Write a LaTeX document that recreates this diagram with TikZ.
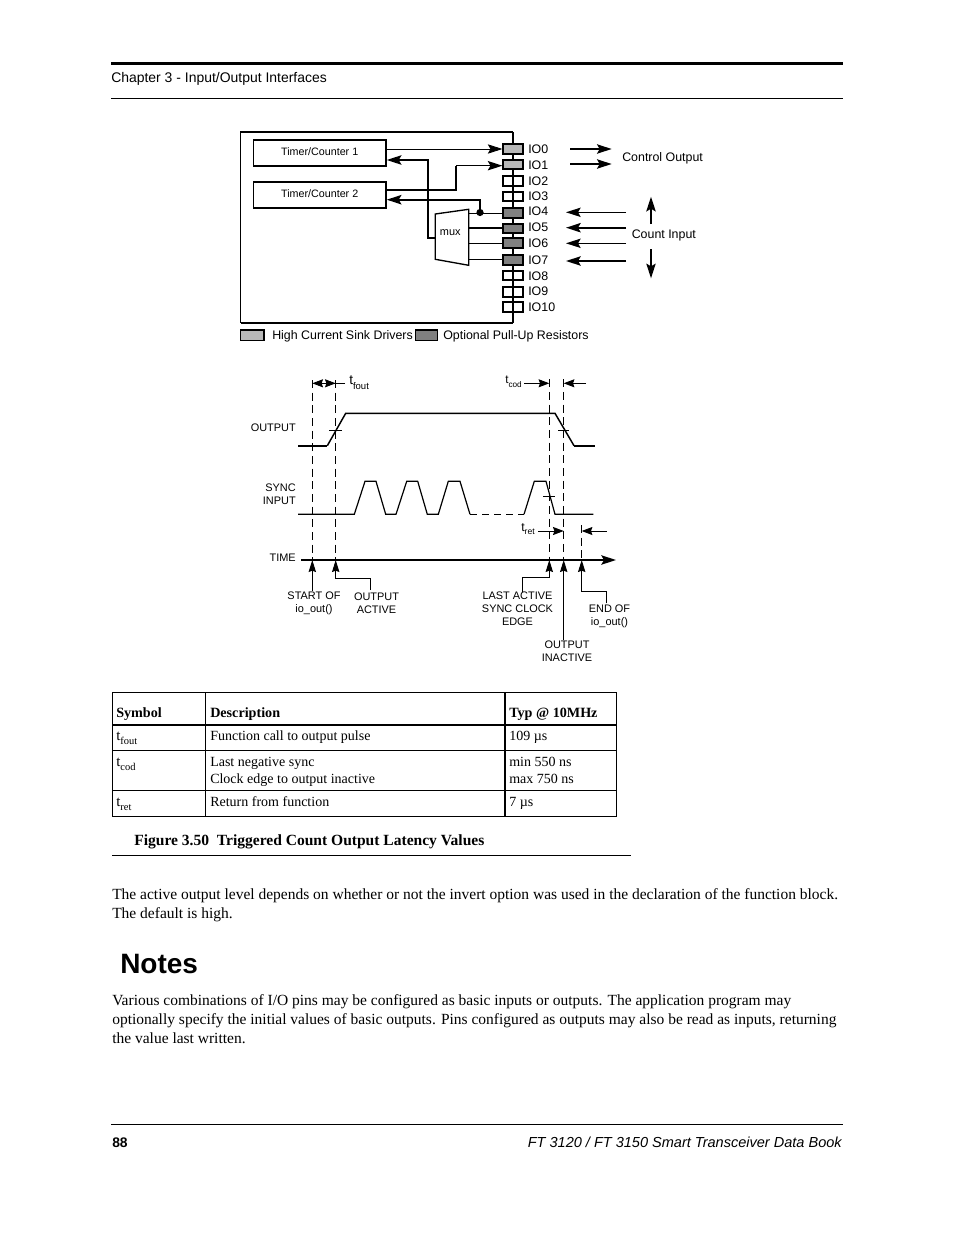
\documentclass[tikz,border=0pt]{standalone}
\usepackage{fontspec}
\setmainfont{Liberation Serif}
\newfontfamily\arialfont{Liberation Sans}
\usepackage{tikz}
\usetikzlibrary{
    arrows.meta,
    calc
}
\newcommand{\tsub}[1]{t\raisebox{-0.35ex}{\textsubscript{#1}}}
\tikzset{
    wire/.style={line width=0.7pt},
    thickwire/.style={line width=1.5pt},
    tipwire/.style={wire,-{Stealth[length=11pt,width=7pt,inset=2pt]}},
    tipthick/.style={thickwire,-{Stealth[length=11pt,width=7pt,inset=2pt]}},
    tipshort/.style={wire,-{Stealth[length=8pt,width=6pt,inset=1pt]}},
    tippoint/.style={wire,-{Stealth[length=9pt,width=5.5pt,inset=1pt]}},
    marker/.style={line width=0.8pt,dash pattern=on 6pt off 3.5pt},
    pinplain/.style={draw,line width=1.3pt,minimum width=14.5pt,minimum height=7pt,inner sep=0pt},
    pinlight/.style={pinplain,fill=black!28},
    pindark/.style={pinplain,fill=black!50},
    iolabel/.style={anchor=west,inner sep=0pt,yshift=-0.75pt,font=\arialfont\fontsize{9.3}{11}\selectfont},
    smalllabel/.style={inner sep=0pt,align=center,yshift=-0.75pt,font=\arialfont\fontsize{8.2}{9.6}\selectfont},
    timerbox/.style={draw,line width=1pt,minimum width=99.5pt,minimum height=19.5pt,inner sep=0pt,text height=6pt,text depth=3pt,font=\arialfont\fontsize{8.05}{9}\selectfont},
    cell/.style={anchor=base west,inner sep=0pt,yshift=-0.75pt,font=\fontsize{10.5}{13}\selectfont},
    headcell/.style={cell,font=\bfseries\fontsize{10.6}{13}\selectfont},
    symcell/.style={cell,font=\fontsize{11.2}{13}\selectfont},
    bodyline/.style={anchor=base west,inner sep=0pt,yshift=-0.75pt,font=\fontsize{11.62}{15}\selectfont}
}
\begin{document}
\begin{tikzpicture}[x=0.75pt,y=-0.75pt]
\useasboundingbox (0,0) rectangle (954,1235);
\fill[white] (0,0) rectangle (954,1235);

% Page header
\coordinate (headl) at (111,63.5);
\coordinate (headr) at (843,63.5);
\draw[line width=2.2pt] (headl) -- (headr);
\node[anchor=west,inner sep=0pt,font=\arialfont\fontsize{10.46}{13}\selectfont] (chapter) at (111,78.5) {Chapter 3 - Input/Output Interfaces};
\coordinate (headl2) at (111,98);
\coordinate (headr2) at (843,98);
\draw[line width=0.6pt] (headl2) -- (headr2);

% Block outline
\coordinate (boxa) at (513,132);
\coordinate (boxb) at (240.7,132);
\coordinate (boxc) at (240.7,323.3);
\coordinate (boxd) at (513,323.3);
\draw[line width=1pt] (boxa) -- (boxb) -- (boxc);
\draw[line width=1.3pt] (boxc) -- (boxd);
\draw[line width=0.8pt] (boxa) -- (boxd);

% Timers
\node[timerbox] (timerone) at (319.7,153) {Timer/Counter 1};
\node[timerbox] (timertwo) at (319.7,195) {Timer/Counter 2};

% Pins
\foreach \name/\ypos/\ytext/\kind in {0/149/148.5/pinlight,1/164.3/164/pinlight,2/181/180.5/pinplain,3/196.3/195.5/pinplain,
    4/213/210.5/pindark,5/228.3/226.5/pindark,6/243/242/pindark,7/260/259/pindark,8/275.3/275/pinplain,9/292/290.5/pinplain,10/307/306.5/pinplain}{
  \node[\kind] (pin\name) at (513,\ypos) {};
  \node[iolabel] (io\name) at (528,\ytext) {IO\name};
}
\foreach \name in {2,3,8,9,10}{
  \draw[line width=0.8pt] (pin\name.north) -- (pin\name.south);
}

% Mux
\coordinate (muxa) at (435.3,214);
\coordinate (muxb) at (468.7,209.3);
\coordinate (muxc) at (468.7,265.3);
\coordinate (muxd) at (435.3,259.3);
\draw[line width=1pt,fill=white] (muxa) -- (muxb) -- (muxc) -- (muxd) -- cycle;
\node[smalllabel] (muxlabel) at (450.3,232) {mux};
\coordinate (muxout) at (435.3,238);

% Wires in the block
\draw[tipwire] (timerone.east |- pin0) -- (pin0.west);
\draw[tipthick] (muxout) -| (428.3,160) -- (timerone.east |- 0,160);
\draw[thickwire] (timertwo.east |- 0,190) -| (456,166);
\draw[tipwire,line width=1pt] (456,165.7) -- (pin1.west |- 0,165.7);
\draw[wire] (468.7,213) -- (pin4.west);
\draw[thickwire] (468.7,227.7) -- (pin5.west |- 0,227.7);
\draw[wire] (468.7,243.3) -- (pin6.west |- 0,243.3);
\draw[wire] (468.7,259.3) -- (pin7.west |- 0,259.3);
\node[circle,fill,inner sep=0pt,minimum size=5.4pt] (muxdot) at (480,212.5) {};
\draw[tipthick] (muxdot.center) |- (timertwo.east |- 0,199.7);

% Arrows beside the pins
\draw[tipthick] (570,149) -- (611.7,149);
\draw[tipthick] (570,164) -- (611.7,164);
\draw[tipwire] (626,212.3) -- (566,212.3);
\draw[tipthick] (626,227.7) -- (566,227.7);
\draw[tipwire] (626,243.3) -- (566,243.3);
\draw[tipthick] (626,261) -- (566,261);
\draw[tipthick] (651,224) -- (651,196.7);
\draw[tipwire,line width=1pt] (651,249.3) -- (651,278.3);
\node[iolabel] (ctrl) at (622,157) {Control Output};
\node[iolabel] (count) at (631.5,234) {Count Input};

% Legend
\node[draw,line width=1pt,fill=black!28,minimum width=17.5pt,minimum height=8pt,inner sep=0pt] (keylight) at (252.3,335.3) {};
\node[iolabel] (keylightlabel) at (272,335) {High Current Sink Drivers};
\node[draw,line width=1pt,fill=black!50,minimum width=16.5pt,minimum height=8pt,inner sep=0pt] (keydark) at (426.2,335.3) {};
\node[iolabel] (keydarklabel) at (443,335) {Optional Pull-Up Resistors};

% Timing markers
\foreach \name/\xpos/\ytop in {a/312.3/380,b/335.7/380,c/549.3/379.3,d/563.7/379.3,e/581.7/525}{
  \coordinate (mark\name) at (\xpos,\ytop);
  \coordinate (foot\name) at (\xpos,560);
  \draw[marker] (mark\name) -- (foot\name);
}

% Output trace
\draw[thickwire] (298.3,445.7) -- (327.3,445.7);
\draw[line width=1.1pt] (327.3,445.7) -- (345.7,413.3) -- (555,413.3) -- (574,445.7);
\draw[thickwire] (574,445.7) -- (595,445.7);
\draw[wire] (329.3,430.3) -- (341.7,430.3);
\draw[wire] (558.3,430.3) -- (569,430.3);
\node[smalllabel,anchor=east] (outlabel) at (296,427) {OUTPUT};

% Sync trace
\draw[line width=0.9pt] (298,514.3) -- (354.3,514.3) -- (365,481.3) -- (376,481.3) -- (385.7,514.3) -- (396,514.3)
   -- (406.7,481.3) -- (417.7,481.3) -- (427.3,514.3) -- (438.3,514.3) -- (448.3,481.3) -- (460,481.3) -- (470,514.3);
\draw[line width=0.9pt,dash pattern=on 5pt off 4pt] (470,514.3) -- (524,514.3);
\draw[line width=0.9pt] (524,514.3) -- (534.3,481.3) -- (546,481.3) -- (555,514.3) -- (593.3,514.3);
\draw[wire] (543.3,496) -- (555,496);
\node[smalllabel,anchor=east,align=right] (synclabel) at (296,493.5) {SYNC\\INPUT};

% Time axis
\coordinate (timea) at (301,560);
\coordinate (timeb) at (616,560);
\draw[tipthick] (timea) -- (timeb);
\node[smalllabel,anchor=east] (timelabel) at (296,557) {TIME};

% Pointers onto the axis
\draw[tippoint] (312.3,591) -- (foota);
\draw[tippoint] (370.3,590) |- (335.7,578.3) -- (footb);
\draw[tippoint] (522.3,591.7) |- (549.3,577.3) -- (footc);
\draw[tippoint] (563.7,640) -- (footd);
\draw[tippoint] (606,603.3) |- (581.7,591.7) -- (foote);
\node[smalllabel] (startlabel) at (314,602.5) {START OF\\io\_out()};
\node[smalllabel] (activelabel) at (376.5,602.5) {OUTPUT\\ACTIVE};
\node[smalllabel] (lastlabel) at (517.5,608) {LAST ACTIVE\\SYNC CLOCK\\EDGE};
\node[smalllabel] (endlabel) at (609.5,615) {END OF\\io\_out()};
\node[smalllabel] (inactivelabel) at (567,650.5) {OUTPUT\\INACTIVE};

% Latency brackets
\draw[tipshort] (345,383.3) -- (312.3,383.3);
\draw[tipshort] (318,383.3) -- (335.7,383.3);
\node[iolabel,font=\arialfont\fontsize{10.2}{11}\selectfont] (fout) at (349,381.5) {\tsub{fout}};
\node[iolabel,font=\arialfont\fontsize{8.8}{10}\selectfont] (cod) at (505,381) {\tsub{cod}};
\draw[tipshort] (524,383.3) -- (549.3,383.3);
\draw[tipshort] (586,383.3) -- (563.7,383.3);
\node[iolabel,font=\arialfont\fontsize{9.2}{10}\selectfont] (ret) at (521,528) {\tsub{ret}};
\draw[tipshort] (538.3,531) -- (563.7,531);
\draw[tipshort] (606.7,531) -- (581.7,531);

% Table
\draw[line width=0.7pt] (112.5,692.5) rectangle (616.5,816.5);
\draw[line width=0.7pt] (205,692.5) -- (205,816.5);
\draw[line width=1.4pt] (505,692.5) -- (505,816.5);
\draw[line width=1.4pt] (112.5,725) -- (616.5,725);
\draw[line width=0.7pt] (112.5,750.5) -- (616.5,750.5);
\draw[line width=1.4pt] (112.5,790.5) -- (616.5,790.5);
\node[headcell] (headsym) at (116,716) {Symbol};
\node[headcell] (headdesc) at (210,716) {Description};
\node[headcell] (headtyp) at (509,716) {Typ @ 10MHz};
\node[symcell] (symfout) at (116,739) {\tsub{fout}};
\node[cell] (descfout) at (210,739) {Function call to output pulse};
\node[cell] (typfout) at (509,739) {109 µs};
\node[symcell] (symcod) at (116,765) {\tsub{cod}};
\node[cell] (desccoda) at (210,765) {Last negative sync};
\node[cell] (desccodb) at (210,782) {Clock edge to output inactive};
\node[cell] (typcoda) at (509,765) {min 550 ns};
\node[cell] (typcodb) at (509,782) {max 750 ns};
\node[symcell] (symret) at (116,805) {\tsub{ret}};
\node[cell] (descret) at (210,805) {Return from function};
\node[cell] (typret) at (509,805) {7 µs};

% Caption
\node[cell,font=\bfseries\fontsize{11.66}{14}\selectfont] (caption) at (134,844) {Figure 3.50\ \ Triggered Count Output Latency Values};
\coordinate (capa) at (112,855);
\coordinate (capb) at (631,855);
\draw[line width=0.6pt] (capa) -- (capb);

% Running text
\node[bodyline] (bodya) at (112,898.5) {The active output level depends on whether or not the invert option was used in the declaration of the function block.};
\node[bodyline] (bodyb) at (112,917) {The default is high.};
\node[anchor=base west,inner sep=0pt,font=\arialfont\bfseries\fontsize{21}{25}\selectfont] (notes) at (120,973) {Notes};
\node[bodyline] (parta) at (112,1004.5) {Various combinations of I/O pins may be configured as basic inputs or outputs. The application program may};
\node[bodyline] (partb) at (112,1023.5) {optionally specify the initial values of basic outputs. Pins configured as outputs may also be read as inputs, returning};
\node[bodyline] (partc) at (112,1042.5) {the value last written.};

% Page footer
\coordinate (foota2) at (111,1124.5);
\coordinate (footb2) at (843,1124.5);
\draw[line width=0.6pt] (foota2) -- (footb2);
\node[anchor=base west,inner sep=0pt,font=\arialfont\bfseries\fontsize{10.4}{13}\selectfont] (pagenum) at (112,1147.5) {88};
\node[anchor=base east,inner sep=0pt,font=\arialfont\itshape\fontsize{10.9}{13}\selectfont] (bookname) at (842,1147.5) {FT 3120 / FT 3150 Smart Transceiver Data Book};
\end{tikzpicture}
\end{document}
